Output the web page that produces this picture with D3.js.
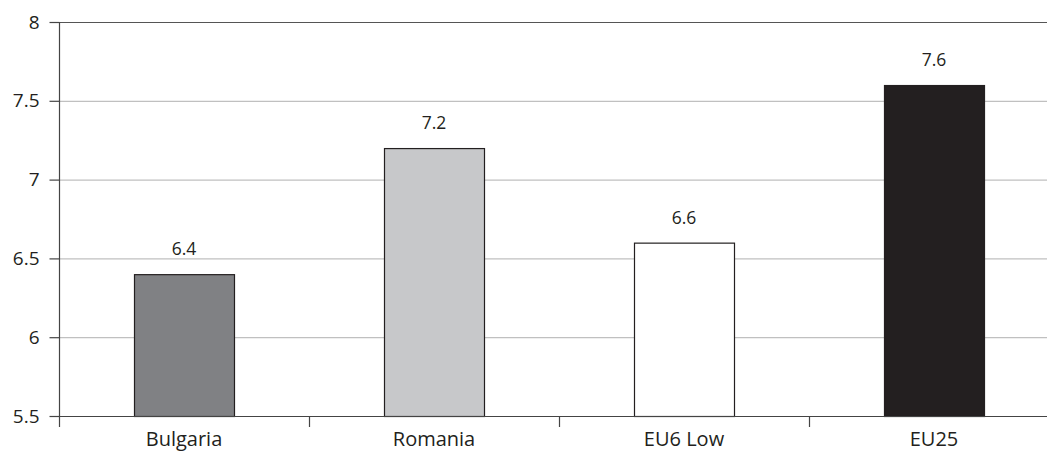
<!DOCTYPE html>
<html><head><meta charset="utf-8">
<script src="https://cdn.jsdelivr.net/npm/d3@7"></script>
<style>body{margin:0;background:#fff}svg{display:block}text{font-family:"Open Sans",sans-serif;fill:#231f20}</style>
</head><body><svg id="c" width="1047" height="453"></svg>
<script>
const categories = ["Bulgaria","Romania","EU6 Low","EU25"];
const values = [6.4,7.2,6.6,7.6];
const colors = ["#808184","#c7c8ca","#ffffff","#231f20"];
const yTicks = [5.5,6,6.5,7,7.5,8];

const svg = d3.select("#c");
const m = {l:59, t:22, r:1059, b:416};
const x = d3.scaleBand().domain(categories).range([m.l, m.r]);
const y = d3.scaleLinear().domain([5.5,8]).range([m.b, m.t]);

// gridlines
svg.append("g").selectAll("line").data(yTicks.filter(d=>d>5.5 && d<8)).join("line")
  .attr("x1", m.l).attr("x2", 1047).attr("y1", d=>y(d)+0.5).attr("y2", d=>y(d)+0.5)
  .attr("stroke", "#c0c0c0").attr("stroke-width", 1.2);
// top line
svg.append("line").attr("x1", m.l).attr("x2", 1047).attr("y1", y(8)+0.5).attr("y2", y(8)+0.5)
  .attr("stroke","#555").attr("stroke-width",1.2);

// bars
const bw = 100;
svg.append("g").selectAll("rect").data(categories).join("rect")
  .attr("x", d=>x(d)+x.bandwidth()/2-bw/2+0.5)
  .attr("y", (d,i)=>y(values[i])+0.5)
  .attr("width", bw)
  .attr("height", (d,i)=>y(5.5)-y(values[i]))
  .attr("fill", (d,i)=>colors[i])
  .attr("stroke", "#231f20").attr("stroke-width", 1.2);

// value labels
svg.append("g").selectAll("text").data(categories).join("text")
  .attr("x", d=>x(d)+x.bandwidth()/2)
  .attr("y", (d,i)=>y(values[i])-19)
  .attr("text-anchor","middle").attr("font-size",17.5)
  .text((d,i)=>values[i]);

// y axis
const ya = svg.append("g").attr("transform",`translate(${m.l+0.5},0)`)
  .call(d3.axisLeft(y).tickValues(yTicks).tickSize(10).tickPadding(10).tickFormat(d=>d));
ya.select(".domain").attr("stroke","#444").attr("stroke-width",1.2).attr("d",`M0,${m.t}V${m.b}`);
ya.selectAll(".tick line").attr("stroke","#444").attr("stroke-width",1.2);
ya.selectAll("text").attr("font-size",19).attr("font-family","Open Sans").attr("fill","#231f20");

// x axis
const xa = svg.append("g").attr("transform",`translate(0,${m.b+0.5})`)
  .call(d3.axisBottom(x).tickSize(0).tickPadding(15.5));
xa.select(".domain").attr("stroke","#444").attr("stroke-width",1.2).attr("d",`M${m.l},0H1047`);
xa.selectAll("text").attr("font-size",20).attr("font-family","Open Sans").attr("fill","#231f20");
// category separators
svg.append("g").selectAll("line").data(categories).join("line")
  .attr("x1", d=>x(d)+0.5).attr("x2", d=>x(d)+0.5)
  .attr("y1", m.b).attr("y2", m.b+11)
  .attr("stroke","#444").attr("stroke-width",1.2);
</script></body></html>
